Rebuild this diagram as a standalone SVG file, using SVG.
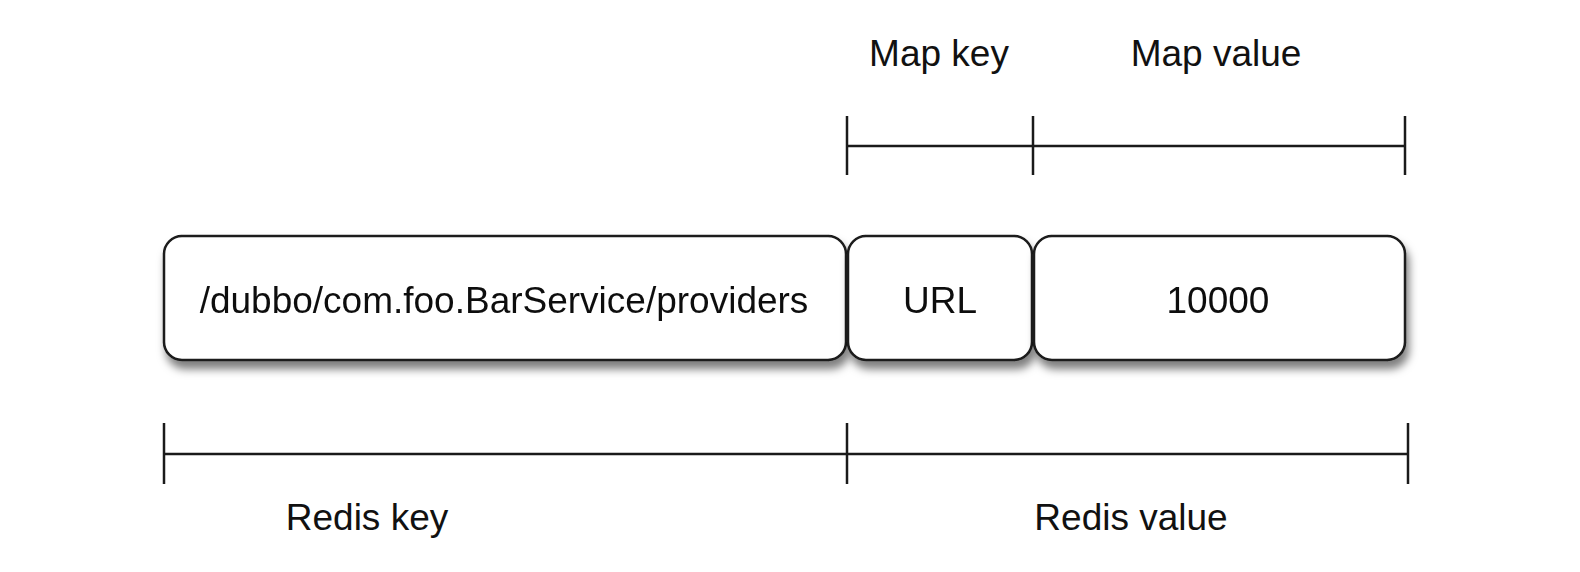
<svg xmlns="http://www.w3.org/2000/svg" width="1580" height="572" viewBox="0 0 1580 572">
<style>
.box{fill:#fff;stroke:#1a1a1a;stroke-width:2.5}
.t{font-family:"Liberation Sans",Arial,sans-serif;font-size:37px;fill:#111;text-anchor:middle}
.l{font-family:"Liberation Sans",Arial,sans-serif;font-size:37px;fill:#111;text-anchor:middle}
.ln{stroke:#1a1a1a;stroke-width:2.5;fill:none}
</style>
<defs>
<filter id="sh" x="-10%" y="-20%" width="120%" height="160%">
<feDropShadow dx="3" dy="8" stdDeviation="4.5" flood-color="#000" flood-opacity="0.5"/>
</filter>
</defs>
<rect width="1580" height="572" fill="#fff"/>
<g id="redis-key-box" filter="url(#sh)">
<rect class="box" x="164" y="236" width="682" height="124" rx="18"/>
<text class="t" x="504" y="313">/dubbo/com.foo.BarService/providers</text>
</g>
<g id="url-box" filter="url(#sh)">
<rect class="box" x="848" y="236" width="184" height="124" rx="18"/>
<text class="t" x="940" y="313">URL</text>
</g>
<g id="value-box" filter="url(#sh)">
<rect class="box" x="1034" y="236" width="371" height="124" rx="18"/>
<text class="t" x="1218" y="313">10000</text>
</g>
<g id="connectors">
<line class="ln" x1="847" y1="116" x2="847" y2="175"/>
<line class="ln" x1="1033" y1="116" x2="1033" y2="175"/>
<line class="ln" x1="1405" y1="116" x2="1405" y2="175"/>
<line class="ln" x1="847" y1="146" x2="1405" y2="146"/>
<line class="ln" x1="164" y1="423" x2="164" y2="484"/>
<line class="ln" x1="847" y1="423" x2="847" y2="484"/>
<line class="ln" x1="1408" y1="423" x2="1408" y2="484"/>
<line class="ln" x1="164" y1="454" x2="1408" y2="454"/>
</g>
<g id="labels">
<text class="l" x="939" y="66">Map key</text>
<text class="l" x="1216" y="66">Map value</text>
<text class="l" x="367" y="530">Redis key</text>
<text class="l" x="1131" y="530">Redis value</text>
</g>
</svg>
